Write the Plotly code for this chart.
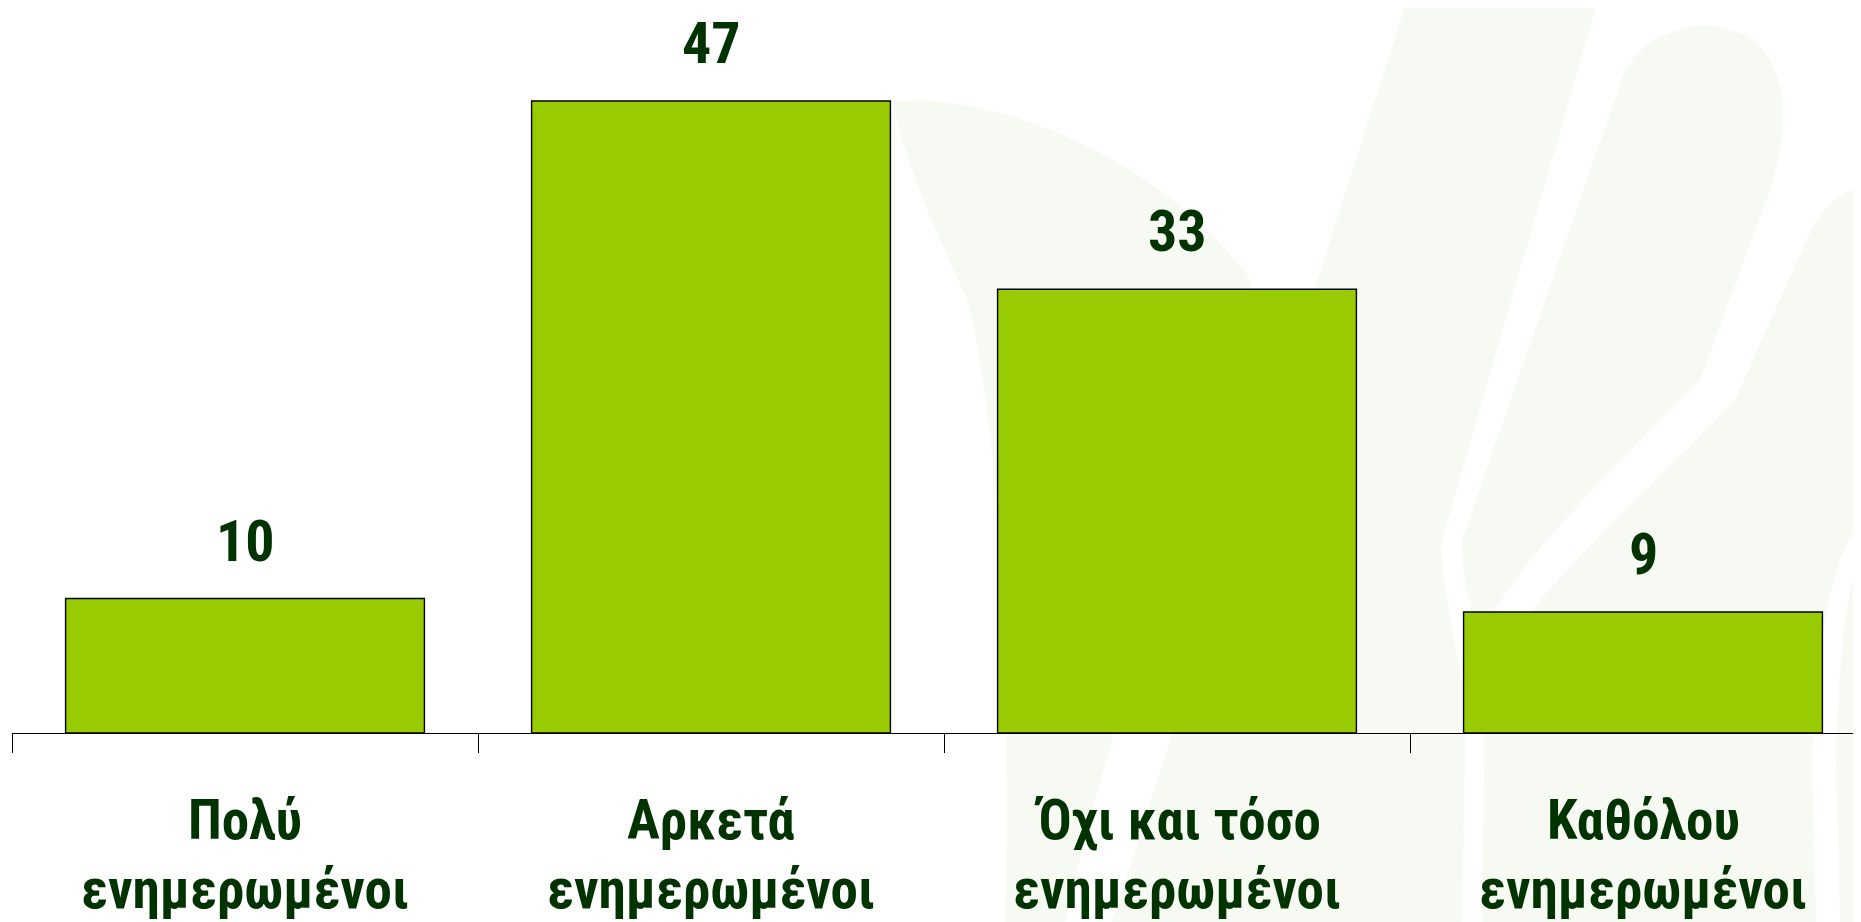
import plotly.graph_objects as go

# ---- data ----
categories = ["Πολύ", "Αρκετά", "Όχι και τόσο", "Καθόλου"]
second_line = ["ενημερωμένοι", "ενημερωμένοι", "ενημερωμένοι", "ενημερωμένοι"]
values = [10, 47, 33, 9]

# ---- style ----
BAR_COLOR = "#99CC00"
TEXT_COLOR = "#003300"
TINT = "rgb(247,250,242)"
FONT = "Roboto Condensed, Arial Narrow, Liberation Sans, sans-serif"

OFF = 8                      # page body margin
W, H = 1861 - OFF, 922 - OFF
ML, MR, MT = 4, 0, 0
AXIS_Y = 733                 # screen y of the baseline
PH = AXIS_Y - OFF - MT
MB = H - MT - PH
PW = W - ML - MR
PX_PER_UNIT = 632 / 47
CAT_STEP = 466.0


def px_path(cmds):
    """convert a screen-pixel path to paper coords (decorative watermark)"""
    out = []
    for c in cmds:
        if isinstance(c, str):
            out.append(c)
        else:
            x, y = c
            out.append(f"{(x - OFF - ML) / PW:.5f},{(AXIS_Y - y) / PH:.5f}")
    return " ".join(out)


# faint background watermark shapes (screen pixel coords)
wm_tinted = [
    # leaf on the left
    ["M", (893, 103), "C", (960, 88), (1150, 140), (1252, 282),
     "C", (1180, 520), (1100, 760), (1065, 922), "L", (1005, 922),
     "C", (1010, 700), (1000, 400), (965, 295), "C", (930, 220), (905, 160), (893, 103), "Z"],
    # large band + right area
    ["M", (1407, 0), "L", (1861, 0), "L", (1861, 922), "L", (1112, 922), "Z"],
]
wm_white = [
    ["M", (1598, 0), "L", (1861, 0), "L", (1861, 188), "C", (1842, 190), (1826, 205), (1812, 228),
     "L", (1735, 400), "C", (1600, 540), (1500, 620), (1485, 700), "L", (1482, 922), "L", (1462, 922),
     "L", (1466, 700), "C", (1455, 640), (1440, 580), (1442, 540), "Z"],
    ["M", (1861, 520), "C", (1830, 560), (1815, 650), (1812, 767), "L", (1816, 922), "L", (1840, 922),
     "L", (1836, 767), "C", (1838, 650), (1848, 580), (1861, 555), "Z"],
]
wm_tinted_top = [
    ["M", (1625, 70), "C", (1650, 30), (1700, 15), (1745, 35), "C", (1790, 60), (1790, 130), (1770, 190),
     "L", (1700, 380), "C", (1600, 480), (1510, 570), (1478, 640), "C", (1470, 600), (1460, 570), (1462, 540), "Z"],
]

shapes = []
for group, color in ((wm_tinted, TINT), (wm_white, "white"), (wm_tinted_top, TINT)):
    for p in group:
        shapes.append(dict(type="path", xref="paper", yref="paper", path=px_path(p),
                           fillcolor=color, line=dict(width=0), layer="below"))

fig = go.Figure()
fig.add_trace(go.Bar(
    x=categories, y=values, width=0.77,
    marker=dict(color=BAR_COLOR, line=dict(color="black", width=1.4)),
    hoverinfo="skip",
))

NUM_FONT = dict(family=FONT, size=58, color=TEXT_COLOR, weight="bold")
LBL_FONT = dict(family=FONT, size=55, color=TEXT_COLOR, weight="bold")
annotations = []
for c, v, l2 in zip(categories, values, second_line):
    annotations.append(dict(x=c, y=v, xref="x", yref="y", text=str(v), showarrow=False, borderpad=0,
                            yanchor="middle", xanchor="center", yshift=58, font=NUM_FONT))
    annotations.append(dict(x=c, y=0, xref="x", yref="y", text=c, showarrow=False, borderpad=0,
                            yanchor="middle", xanchor="center", yshift=-87, font=LBL_FONT))
    annotations.append(dict(x=c, y=0, xref="x", yref="y", text=l2, showarrow=False, borderpad=0,
                            yanchor="middle", xanchor="center", yshift=-156, font=LBL_FONT))

y_top = PH / PX_PER_UNIT
x_span = PW / CAT_STEP

fig.update_layout(
    width=W, height=H,
    margin=dict(l=ML, r=MR, t=MT, b=MB, pad=0),
    paper_bgcolor="white", plot_bgcolor="rgba(0,0,0,0)",
    showlegend=False,
    shapes=shapes,
    annotations=annotations,
    xaxis=dict(type="category", range=[-0.5, -0.5 + x_span], tickson="boundaries",
               ticks="outside", ticklen=19, tickwidth=1, tickcolor="black",
               showticklabels=False, showline=True, linecolor="black", linewidth=1,
               showgrid=False, zeroline=False, fixedrange=True),
    yaxis=dict(range=[0, y_top], visible=False, showgrid=False, zeroline=False, fixedrange=True),
)

fig.write_html("out.html")
